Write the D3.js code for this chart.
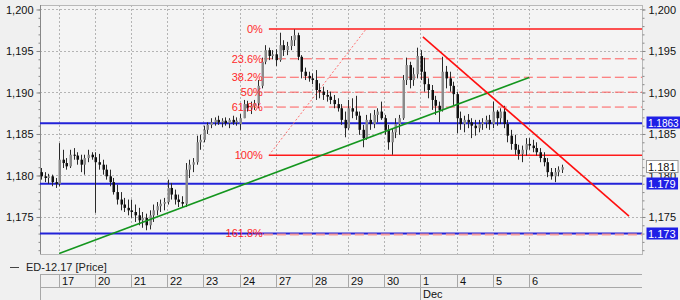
<!DOCTYPE html>
<html><head><meta charset="utf-8">
<script src="https://cdn.jsdelivr.net/npm/d3@7/dist/d3.min.js"></script>
<style>
html,body{margin:0;padding:0;background:#f0f0f0;}
text{font-family:"Liberation Sans",Arial,sans-serif;font-size:11px;}
</style></head>
<body><svg id="c" width="680" height="300"></svg>
<script>
// ---- data ----
const dayLabels = ["17","20","21","22","23","24","27","28","29","30","1","4","5","6"];
const monthLabel = "Dec";
const monthDayIndex = 10; // day "1"
const barsPerDay = 10;
const firstBar = -5;
const opens = [1.1804,1.1799,1.1797,1.1799,1.1792,
1.1790,1.1819,1.1815,1.1811,1.1825,1.1824,1.1819,1.1813,1.1821,1.1825,
1.1822,1.1816,1.1813,1.1807,1.1799,1.1792,1.1780,1.1771,1.1765,1.1761,
1.1758,1.1756,1.1752,1.1746,1.1749,1.1740,1.1752,1.1758,1.1763,1.1766,
1.1768,1.1785,1.1777,1.1771,1.1768,1.1766,1.1807,1.1813,1.1816,1.1840,
1.1843,1.1855,1.1861,1.1864,1.1867,1.1864,1.1866,1.1863,1.1867,1.1864,
1.1862,1.1869,1.1886,1.1881,1.1884,1.1887,1.1908,1.1937,1.1951,1.1944,
1.1946,1.1939,1.1957,1.1951,1.1956,1.1963,1.1969,1.1943,1.1925,1.1920,
1.1917,1.1915,1.1903,1.1901,1.1897,1.1895,1.1891,1.1886,1.1881,1.1867,
1.1857,1.1881,1.1877,1.1872,1.1855,1.1845,1.1867,1.1862,1.1873,1.1877,
1.1869,1.1855,1.1840,1.1852,1.1862,1.1869,1.1915,1.1933,1.1915,1.1922,
1.1944,1.1925,1.1910,1.1903,1.1891,1.1884,1.1879,1.1925,1.1917,1.1908,
1.1898,1.1869,1.1862,1.1867,1.1864,1.1860,1.1857,1.1862,1.1864,1.1867,
1.1862,1.1877,1.1869,1.1877,1.1862,1.1848,1.1838,1.1831,1.1826,1.1831,
1.1838,1.1836,1.1833,1.1828,1.1821,1.1816,1.1804,1.1799,1.1804,1.1807];
const highs = [1.1809,1.1804,1.1802,1.1801,1.1797,
1.1839,1.1831,1.1821,1.1831,1.1833,1.1828,1.1825,1.1825,1.1831,1.1828,
1.1828,1.1826,1.1819,1.1813,1.1807,1.1797,1.1789,1.1780,1.1773,1.1771,
1.1771,1.1765,1.1761,1.1756,1.1754,1.1758,1.1765,1.1768,1.1771,1.1773,
1.1795,1.1791,1.1783,1.1777,1.1775,1.1815,1.1819,1.1821,1.1848,1.1849,
1.1860,1.1864,1.1869,1.1870,1.1872,1.1869,1.1870,1.1869,1.1872,1.1870,
1.1874,1.1891,1.1890,1.1889,1.1891,1.1915,1.1942,1.1957,1.1954,1.1951,
1.1952,1.1972,1.1963,1.1961,1.1968,1.1976,1.1972,1.1945,1.1930,1.1925,
1.1923,1.1927,1.1911,1.1907,1.1903,1.1901,1.1897,1.1893,1.1886,1.1877,
1.1891,1.1893,1.1896,1.1877,1.1861,1.1873,1.1875,1.1879,1.1881,1.1889,
1.1873,1.1861,1.1857,1.1869,1.1873,1.1921,1.1942,1.1937,1.1930,1.1954,
1.1951,1.1942,1.1917,1.1909,1.1896,1.1889,1.1943,1.1932,1.1925,1.1913,
1.1901,1.1877,1.1872,1.1874,1.1869,1.1867,1.1867,1.1869,1.1872,1.1873,
1.1889,1.1879,1.1881,1.1884,1.1867,1.1855,1.1849,1.1837,1.1836,1.1845,
1.1845,1.1843,1.1840,1.1833,1.1828,1.1821,1.1809,1.1809,1.1811,1.1813];
const lows = [1.1795,1.1792,1.1790,1.1787,1.1785,
1.1787,1.1809,1.1807,1.1809,1.1819,1.1813,1.1804,1.1801,1.1816,1.1819,
1.1755,1.1807,1.1801,1.1795,1.1787,1.1777,1.1765,1.1758,1.1756,1.1752,
1.1749,1.1744,1.1740,1.1737,1.1734,1.1735,1.1744,1.1752,1.1756,1.1758,
1.1765,1.1771,1.1765,1.1762,1.1761,1.1762,1.1797,1.1804,1.1813,1.1831,
1.1840,1.1850,1.1857,1.1860,1.1861,1.1858,1.1860,1.1857,1.1861,1.1860,
1.1855,1.1869,1.1877,1.1874,1.1879,1.1881,1.1905,1.1934,1.1939,1.1940,
1.1932,1.1937,1.1944,1.1945,1.1951,1.1956,1.1939,1.1917,1.1915,1.1913,
1.1910,1.1891,1.1893,1.1891,1.1889,1.1886,1.1881,1.1877,1.1861,1.1846,
1.1855,1.1869,1.1867,1.1849,1.1834,1.1843,1.1855,1.1857,1.1864,1.1867,
1.1849,1.1831,1.1825,1.1845,1.1849,1.1867,1.1909,1.1905,1.1908,1.1917,
1.1915,1.1901,1.1893,1.1879,1.1873,1.1864,1.1877,1.1905,1.1901,1.1885,
1.1851,1.1855,1.1852,1.1857,1.1845,1.1848,1.1852,1.1855,1.1857,1.1855,
1.1857,1.1860,1.1862,1.1857,1.1840,1.1831,1.1825,1.1819,1.1816,1.1824,
1.1831,1.1828,1.1824,1.1816,1.1811,1.1798,1.1795,1.1792,1.1799,1.1803];
const closes = [1.1799,1.1797,1.1799,1.1792,1.1790,
1.1819,1.1815,1.1811,1.1825,1.1824,1.1819,1.1813,1.1821,1.1825,1.1822,
1.1816,1.1813,1.1807,1.1799,1.1792,1.1780,1.1771,1.1765,1.1761,1.1758,
1.1756,1.1752,1.1746,1.1749,1.1740,1.1752,1.1758,1.1763,1.1766,1.1768,
1.1785,1.1777,1.1771,1.1768,1.1766,1.1807,1.1813,1.1816,1.1840,1.1843,
1.1855,1.1861,1.1864,1.1867,1.1864,1.1866,1.1863,1.1867,1.1864,1.1866,
1.1869,1.1886,1.1881,1.1884,1.1887,1.1908,1.1937,1.1951,1.1944,1.1946,
1.1939,1.1957,1.1951,1.1956,1.1963,1.1969,1.1943,1.1925,1.1920,1.1917,
1.1915,1.1903,1.1901,1.1897,1.1895,1.1891,1.1886,1.1881,1.1867,1.1857,
1.1881,1.1877,1.1872,1.1855,1.1845,1.1867,1.1862,1.1873,1.1877,1.1869,
1.1855,1.1840,1.1852,1.1862,1.1869,1.1915,1.1933,1.1915,1.1922,1.1944,
1.1925,1.1910,1.1903,1.1891,1.1884,1.1879,1.1925,1.1917,1.1908,1.1898,
1.1869,1.1862,1.1867,1.1864,1.1860,1.1857,1.1862,1.1864,1.1867,1.1862,
1.1877,1.1869,1.1877,1.1862,1.1848,1.1838,1.1831,1.1826,1.1831,1.1838,
1.1836,1.1833,1.1828,1.1821,1.1816,1.1804,1.1799,1.1804,1.1807,1.1810];
const hLevels = [1.1863, 1.1790, 1.1730];
const hLevelLabels = ["1.1863", "1.179", "1.173"];
const fibRatios = [0, 0.236, 0.382, 0.5, 0.618, 1, 1.618];
const fibLabels = ["0%","23.6%","38.2%","50%","61.8%","100%","161.8%"];
const fibHigh = 1.19765, fibLow = 1.18243, fibStartIndex = 58, fibDiagEndIndex = 84.9;
const greenTrend = [[0, 1.1706],[130, 1.1918]];
const redTrend = [[100.6, 1.1967],[157.6, 1.1751]];
const yTicks = [1.175,1.180,1.185,1.190,1.195,1.200];
const legendText = "ED-12.17 [Price]";

// ---- layout ----
const L=40, R=642, T=5, B=254;
const svg = d3.select("#c");
const x = d3.scaleLinear().domain([-5.3, 161.2]).range([L, R]);
const y = d3.scaleLinear().domain([1.17054, 1.20054]).range([B, T]);
const fmtC = v => d3.format(".3f")(v).replace(".", ",");

svg.append("rect").attr("x",0).attr("y",0).attr("width",680).attr("height",300).attr("fill","#f0f0f0");
svg.append("rect").attr("x",L).attr("y",T).attr("width",R-L).attr("height",B-T).attr("fill","#f4f4f4");
svg.append("defs").append("clipPath").attr("id","clip").append("rect")
  .attr("x",L).attr("y",T).attr("width",R-L).attr("height",B-T);

const bars = d3.range(opens.length).map(k => ({i:firstBar+k, o:opens[k], h:highs[k], l:lows[k], c:closes[k]}));
const dayIdx = dayLabels.map((d,k)=>k*barsPerDay);

// grid
const grid = svg.append("g");
grid.selectAll(".hg").data(yTicks).join("line")
  .attr("x1",L).attr("x2",R).attr("y1",d=>Math.round(y(d))+0.5).attr("y2",d=>Math.round(y(d))+0.5)
  .attr("stroke","#b4b4b4").attr("stroke-dasharray","2,2");
grid.selectAll(".vg").data(dayIdx).join("line")
  .attr("x1",d=>Math.round(x(d-0.1))+0.5).attr("x2",d=>Math.round(x(d-0.1))+0.5).attr("y1",T).attr("y2",B)
  .attr("stroke","#b4b4b4").attr("stroke-dasharray","2,2");

// frame
svg.append("rect").attr("x",L+0.5).attr("y",T+0.5).attr("width",R-L).attr("height",B-T)
  .attr("fill","none").attr("stroke","#b8b8b8");
svg.append("line").attr("x1",L+0.5).attr("x2",L+0.5).attr("y1",T).attr("y2",B).attr("stroke","#888");

// axes
const yMinor = d3.range(1171,1201).map(v=>v/1000);
const gl = svg.append("g").attr("transform",`translate(${L+0.5},0)`)
  .call(d3.axisLeft(y).tickValues(yMinor).tickSize(2).tickFormat(""));
gl.select(".domain").remove(); gl.selectAll("line").attr("stroke","#888");
const gl2 = svg.append("g").attr("transform",`translate(${L+0.5},0)`)
  .call(d3.axisLeft(y).tickValues(yTicks).tickSize(4).tickPadding(3).tickFormat(fmtC));
gl2.select(".domain").remove(); gl2.selectAll("line").attr("stroke","#888");
gl2.selectAll("text").attr("fill","#111").style("font-size","11px").style("font-family","Liberation Sans, Arial");
const gr = svg.append("g").attr("transform",`translate(${R+0.5},0)`)
  .call(d3.axisRight(y).tickValues(yMinor).tickSize(2).tickFormat(""));
gr.select(".domain").remove(); gr.selectAll("line").attr("stroke","#888");
const gr2 = svg.append("g").attr("transform",`translate(${R+0.5},0)`)
  .call(d3.axisRight(y).tickValues(yTicks).tickSize(3).tickPadding(3).tickFormat(fmtC));
gr2.select(".domain").remove(); gr2.selectAll("line").attr("stroke","#888");
gr2.selectAll("text").attr("fill","#111").style("font-size","11px").style("font-family","Liberation Sans, Arial");

const plot = svg.append("g").attr("clip-path","url(#clip)");

// horizontal blue levels
plot.selectAll(".hl").data(hLevels).join("line")
  .attr("x1",L).attr("x2",R).attr("y1",d=>y(d)).attr("y2",d=>y(d))
  .attr("stroke","#2222d8").attr("stroke-width",2);

// fibonacci
const fibs = fibRatios.map((r,k)=>({r, p: fibHigh - r*(fibHigh-fibLow), lab: fibLabels[k]}));
const fx0 = x(fibStartIndex);
plot.selectAll(".fl").data(fibs).join("line")
  .attr("x1",d=> (d.r===0||d.r===1)? fx0 : fx0-5).attr("x2",R)
  .attr("y1",d=>y(d.p)+(d.r===1.618?1:0)).attr("y2",d=>y(d.p)+(d.r===1.618?1:0))
  .attr("stroke",d=> d.r===1.618 ? "#f49a9a" : (d.r===0||d.r===1) ? "#ff1a1a" : "#ff5c5c")
  .attr("stroke-width",d=> d.r===1.618 ? 2 : (d.r===0||d.r===1) ? 1.5 : 1)
  .attr("stroke-dasharray",d=> (d.r===0||d.r===1) ? null : "9,4");
plot.append("line").attr("x1",x(fibStartIndex)).attr("y1",y(fibLow))
  .attr("x2",x(fibDiagEndIndex)).attr("y2",y(fibHigh))
  .attr("stroke","#ff7070").attr("stroke-width",1).attr("stroke-dasharray","2,2");
svg.selectAll(".ft").data(fibs).join("text")
  .attr("x",fx0-6).attr("y",d=>y(d.p)).attr("dy","0.36em").attr("text-anchor","end")
  .attr("fill","#ff2a2a").text(d=>d.lab);

// candles
const cg = plot.append("g");
cg.selectAll(".w").data(bars).join("line")
  .attr("x1",d=>Math.round(x(d.i))+0.5).attr("x2",d=>Math.round(x(d.i))+0.5)
  .attr("y1",d=>y(d.h)).attr("y2",d=>y(d.l)).attr("stroke","#2a2a2a");
cg.selectAll(".b").data(bars).join("rect")
  .attr("x",d=>Math.round(x(d.i))-0.5).attr("width",2.5)
  .attr("y",d=>Math.min(y(d.o),y(d.c))).attr("height",d=>Math.max(1,Math.abs(y(d.o)-y(d.c))))
  .attr("fill",d=> d.c>=d.o ? "#8a8a8a" : "#111");

// trend lines
const ln = d3.line().x(d=>x(d[0])).y(d=>y(d[1]));
plot.append("path").attr("d",ln(greenTrend)).attr("stroke","#14961e").attr("stroke-width",1.6).attr("fill","none");
plot.append("path").attr("d",ln(redTrend)).attr("stroke","#ff1010").attr("stroke-width",1.6).attr("fill","none");

// right value boxes
function box(v, label, fill, tcol, stroke){
  const g = svg.append("g");
  const t = g.append("text").attr("x",R+6).attr("y",y(v)).attr("dy","0.36em").attr("fill",tcol)
    .style("font-size","11px").text(label);
  let w = t.node().getComputedTextLength();
  if (R+6+w > 678) { t.style("font-size","10px"); w = t.node().getComputedTextLength(); }
  const bw = Math.min(w+4, 680-R-4);
  g.insert("rect","text").attr("x",R+4.5).attr("y",Math.round(y(v))-6.5).attr("width",bw).attr("height",12)
    .attr("fill",fill).attr("stroke",stroke||"none");
}
box(closes[closes.length-1], d3.format(".3f")(closes[closes.length-1]), "#ffffff", "#111", "#999");
hLevels.forEach((v,k) => box(v, hLevelLabels[k], "#1f1fe6", "#ffffff"));

// legend
svg.append("line").attr("x1",10).attr("x2",19).attr("y1",267.5).attr("y2",267.5).attr("stroke","#444");
svg.append("text").attr("x",26).attr("y",271).attr("fill","#222").text(legendText);

// date axis
const dg = svg.append("g");
dg.append("line").attr("x1",L).attr("x2",R).attr("y1",274.5).attr("y2",274.5).attr("stroke","#a8a8a8");
dg.append("line").attr("x1",L).attr("x2",R).attr("y1",287.5).attr("y2",287.5).attr("stroke","#a8a8a8");
dg.append("line").attr("x1",L+0.5).attr("x2",L+0.5).attr("y1",274).attr("y2",300).attr("stroke","#a8a8a8");
dg.selectAll(".ds").data(dayIdx).join("line")
  .attr("x1",d=>Math.round(x(d-0.1))+0.5).attr("x2",d=>Math.round(x(d-0.1))+0.5)
  .attr("y1",274).attr("y2",(d,k)=> k===monthDayIndex ? 300 : 287).attr("stroke","#a8a8a8");
dg.selectAll(".dl").data(dayIdx).join("text")
  .attr("x",d=>Math.round(x(d-0.1))+3).attr("y",285).attr("fill","#111").text((d,k)=>dayLabels[k]);
dg.append("text").attr("x",Math.round(x(dayIdx[monthDayIndex]-0.1))+3).attr("y",298).attr("fill","#111").text(monthLabel);
</script></body></html>
